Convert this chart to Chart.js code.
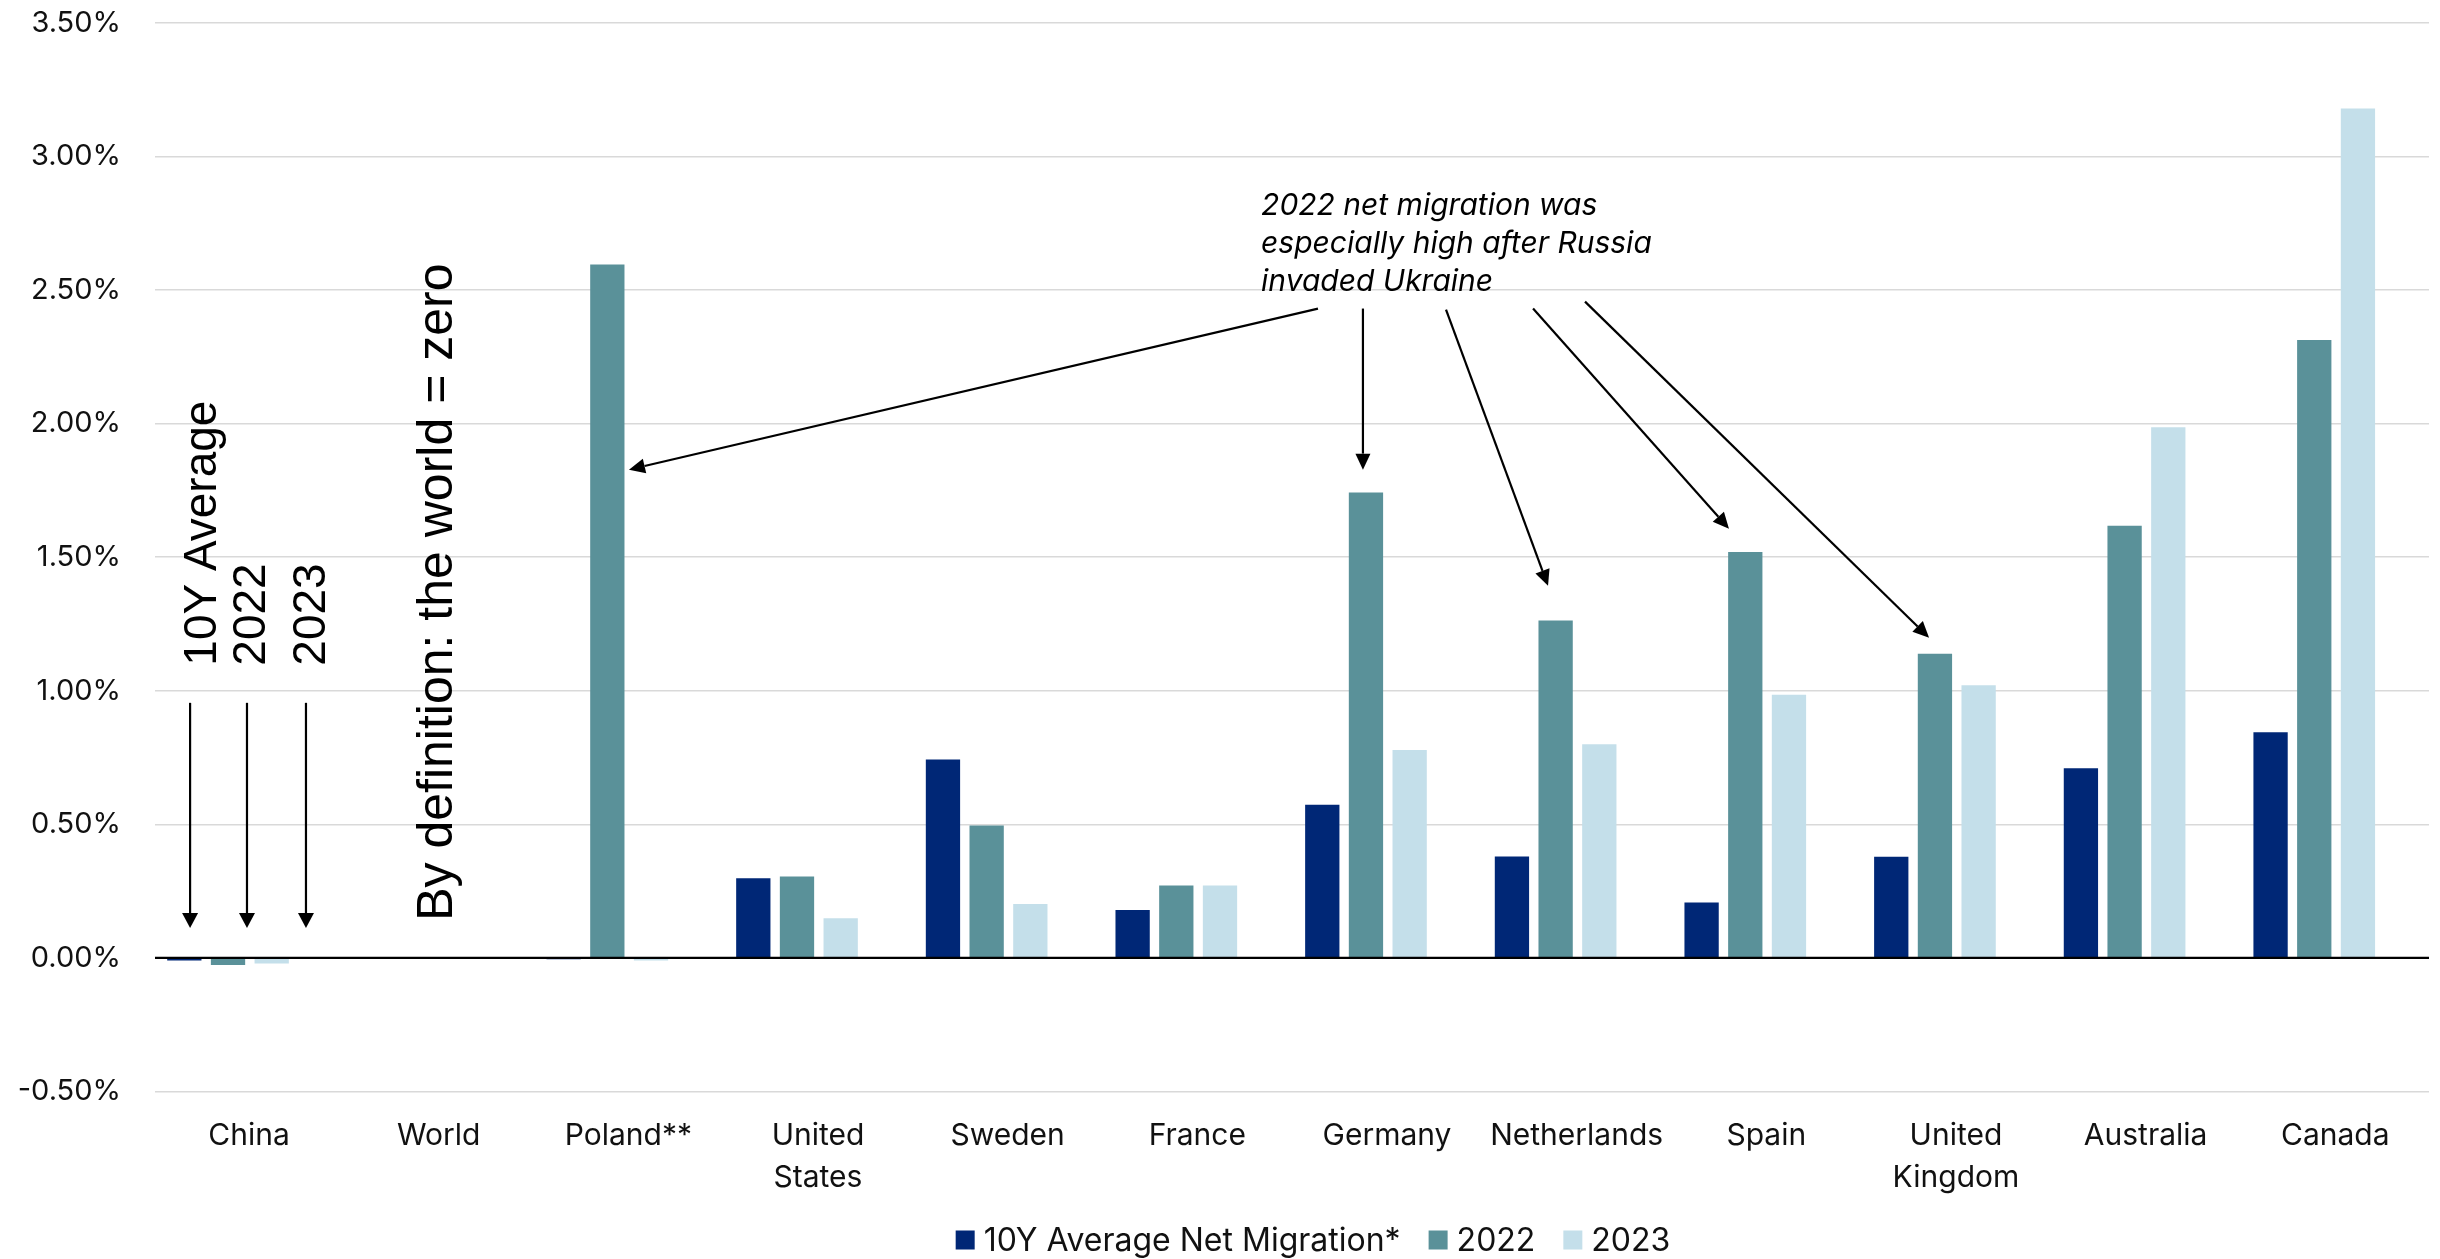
<!DOCTYPE html>
<html>
<head>
<meta charset="utf-8">
<title>Net migration as a share of population</title>
<script src="https://cdn.jsdelivr.net/npm/chart.js@4.4.1/dist/chart.umd.min.js"></script>
<style>
  html, body { margin: 0; padding: 0; background: #ffffff; }
  #wrap { width: 2440px; height: 1259px; position: relative; }
  canvas { display: block; }
</style>
</head>
<body>
<div id="wrap"><canvas id="chart" width="2440" height="1259"></canvas></div>
<script>
// Countries along the x axis (multi-line where the label wraps)
const categories = ['China', 'World', 'Poland**', ['United', 'States'], 'Sweden', 'France',
  'Germany', 'Netherlands', 'Spain', ['United', 'Kingdom'], 'Australia', 'Canada'];

// Net migration, % of population
const avg10y = [-0.01, 0, -0.005, 0.298, 0.743, 0.179, 0.573, 0.38, 0.208, 0.379, 0.71, 0.845];
const net2022 = [-0.026, 0, 2.596, 0.305, 0.496, 0.271, 1.742, 1.263, 1.52, 1.139, 1.618, 2.313];
const net2023 = [-0.021, 0, -0.01, 0.149, 0.202, 0.271, 0.778, 0.80, 0.985, 1.021, 1.987, 3.18];

const seriesNames = ['10Y Average Net Migration*', '2022', '2023'];
const seriesColors = ['#002776', '#5a9199', '#c4dfea'];

// y axis ticks
const yTicks = [-0.5, 0, 0.5, 1.0, 1.5, 2.0, 2.5, 3.0, 3.5];

const UI_FONT = 'Inter, "Noto Sans", "DejaVu Sans", sans-serif';
const NOTE_FONT = '"Liberation Sans", Arial, sans-serif';

const toPoints = arr => arr.map((v, i) => ({ x: i, y: v }));

// Annotation layout, in data units (x = category index, y = percent)
const callout = {
  lines: ['2022 net migration was', 'especially high after Russia', 'invaded Ukraine'],
  at: { x: 5.447, y: 2.783 },
  arrows: [
    { from: { x: 5.747, y: 2.431 }, to: { x: 2.114, y: 1.828 } },
    { from: { x: 5.984, y: 2.431 }, to: { x: 5.984, y: 1.828 } },
    { from: { x: 6.422, y: 2.427 }, to: { x: 6.960, y: 1.393 } },
    { from: { x: 6.881, y: 2.431 }, to: { x: 7.914, y: 1.607 } },
    { from: { x: 7.155, y: 2.457 }, to: { x: 8.969, y: 1.199 } }
  ]
};
const seriesPointers = [
  { text: '10Y Average', x: -0.063, arrowX: -0.200 },
  { text: '2022', x: 0.195, arrowX: 0.100 },
  { text: '2023', x: 0.511, arrowX: 0.411 }
];
const worldNote = { text: 'By definition: the world = zero', x: 1.181, y: 0.139 };

function arrow(ctx, x1, y1, x2, y2, head, half, width) {
  const a = Math.atan2(y2 - y1, x2 - x1);
  const bx = x2 - head * Math.cos(a), by = y2 - head * Math.sin(a);
  ctx.lineWidth = width;
  ctx.beginPath();
  ctx.moveTo(x1, y1);
  ctx.lineTo(bx, by);
  ctx.stroke();
  ctx.beginPath();
  ctx.moveTo(x2, y2);
  ctx.lineTo(bx + half * Math.sin(a), by - half * Math.cos(a));
  ctx.lineTo(bx - half * Math.sin(a), by + half * Math.cos(a));
  ctx.closePath();
  ctx.fill();
}

const decorations = {
  id: 'decorations',
  afterDatasetsDraw(chart) {
    const { ctx, chartArea, scales } = chart;
    const y0 = scales.y.getPixelForValue(0);
    ctx.save();
    ctx.strokeStyle = '#000000';
    ctx.lineWidth = 2.3;
    ctx.beginPath();
    ctx.moveTo(chartArea.left, y0);
    ctx.lineTo(chartArea.right, y0);
    ctx.stroke();
    ctx.restore();
  },
  afterDraw(chart) {
    const { ctx, scales } = chart;
    const px = v => scales.x.getPixelForValue(v);
    const py = v => scales.y.getPixelForValue(v);
    ctx.save();
    ctx.fillStyle = '#000000';
    ctx.strokeStyle = '#000000';

    // Callout text and its arrows
    ctx.font = 'italic 30px ' + UI_FONT;
    ctx.textAlign = 'left';
    ctx.textBaseline = 'alphabetic';
    callout.lines.forEach((t, i) => ctx.fillText(t, px(callout.at.x), py(callout.at.y) + i * 38));
    callout.arrows.forEach(a => arrow(ctx, px(a.from.x), py(a.from.y), px(a.to.x), py(a.to.y), 16, 7.5, 2.2));

    // Vertical series labels over China, each with a pointer
    ctx.font = '46px ' + NOTE_FONT;
    seriesPointers.forEach(s => {
      ctx.save();
      ctx.translate(px(s.x), py(1.094));
      ctx.rotate(-Math.PI / 2);
      ctx.fillText(s.text, 0, 0);
      ctx.restore();
      arrow(ctx, px(s.arrowX), py(0.955), px(s.arrowX), py(0.112), 15, 8, 2.2);
    });

    // Note on the World group
    ctx.font = '50px ' + NOTE_FONT;
    ctx.save();
    ctx.translate(px(worldNote.x), py(worldNote.y));
    ctx.rotate(-Math.PI / 2);
    ctx.fillText(worldNote.text, 0, 0);
    ctx.restore();

    // Legend
    ctx.font = '32px ' + UI_FONT;
    ctx.textBaseline = 'middle';
    const box = 19, gapText = 9, gapItem = 28, cy = 1240;
    const widths = chart.data.datasets.map(d => ctx.measureText(d.label).width);
    const total = widths.reduce((s, w) => s + box + gapText + w, 0) + gapItem * (widths.length - 1);
    let x = 1313 - total / 2;
    chart.data.datasets.forEach((d, i) => {
      ctx.fillStyle = d.backgroundColor;
      ctx.fillRect(x, cy - box / 2, box, box);
      ctx.fillStyle = '#111111';
      ctx.fillText(d.label, x + box + gapText, cy + 1);
      x += box + gapText + widths[i] + gapItem;
    });
    ctx.restore();
  }
};

new Chart(document.getElementById('chart'), {
  type: 'bar',
  data: {
    datasets: [
      { label: seriesNames[0], data: toPoints(avg10y), backgroundColor: seriesColors[0] },
      { label: seriesNames[1], data: toPoints(net2022), backgroundColor: seriesColors[1] },
      { label: seriesNames[2], data: toPoints(net2023), backgroundColor: seriesColors[2] }
    ]
  },
  options: {
    responsive: false,
    animation: false,
    devicePixelRatio: 1,
    layout: { padding: { top: 23, right: 11, bottom: 0, left: 0 } },
    datasets: { bar: { categoryPercentage: 0.691, barPercentage: 0.785, borderWidth: 0 } },
    plugins: { legend: { display: false }, tooltip: { enabled: false } },
    scales: {
      x: {
        type: 'linear',
        offset: false,
        min: -0.385,
        max: 11.605,
        afterBuildTicks: axis => { axis.ticks = categories.map((c, i) => ({ value: i })); },
        afterFit: axis => { axis.height = 167.5; axis.paddingLeft = 0; axis.paddingRight = 0; },
        grid: { display: false, drawTicks: false },
        border: { display: false },
        ticks: {
          autoSkip: false,
          maxRotation: 0,
          labelOffset: 21,
          padding: 23,
          color: '#111111',
          font: { family: UI_FONT, size: 30, lineHeight: 1.4 },
          callback: v => categories[v]
        }
      },
      y: {
        min: -0.5,
        max: 3.5,
        afterBuildTicks: axis => { axis.ticks = yTicks.map(v => ({ value: v })); },
        afterFit: axis => { axis.width = 155; axis.paddingTop = 0; axis.paddingBottom = 0; },
        grid: {
          drawTicks: false,
          color: ctx => (ctx.tick && ctx.tick.value === 0 ? 'rgba(0,0,0,0)' : '#d9d9d9'),
          lineWidth: 1.6
        },
        border: { display: false },
        ticks: {
          padding: 34,
          color: '#111111',
          font: { family: UI_FONT, size: 29 },
          callback: v => v.toFixed(2) + '%'
        }
      }
    }
  },
  plugins: [decorations]
});
</script>
</body>
</html>
